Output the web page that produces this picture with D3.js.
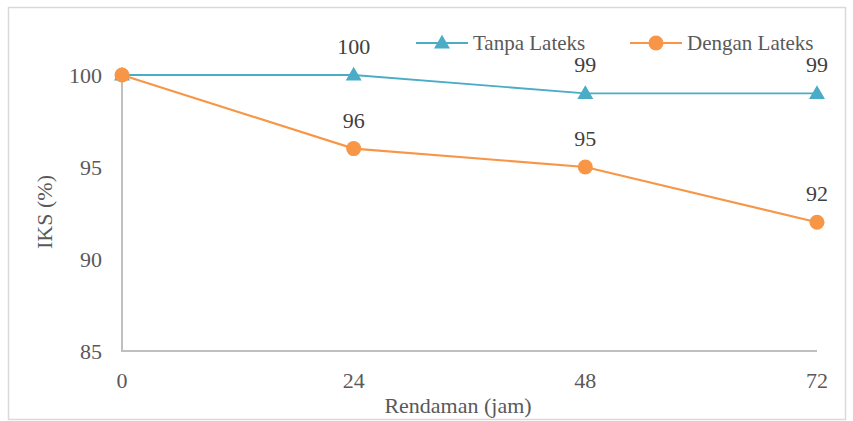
<!DOCTYPE html>
<html><head><meta charset="utf-8">
<script src="https://cdn.jsdelivr.net/npm/d3@7"></script>
</head><body><svg id="c" width="853" height="421"></svg>
<script>
const categories = [0, 24, 48, 72];
const tanpaLateks = [100, 100, 99, 99];
const denganLateks = [100, 96, 95, 92];
const yTicks = [85, 90, 95, 100];
const seriesNames = ["Tanpa Lateks", "Dengan Lateks"];
const blue = "#4BACC6", orange = "#F79646";

const svg = d3.select("#c");
svg.append("rect").attr("x",8.5).attr("y",7.5).attr("width",837).attr("height",412)
  .attr("fill","#fff").attr("stroke","#d9d9d9").attr("stroke-width",1.5);

const x = d3.scalePoint().domain(categories).range([122, 817]);
const y = d3.scaleLinear().domain([85, 100]).range([351, 75]);

svg.append("line").attr("x1",x(0)).attr("x2",x(0)).attr("y1",y(100)).attr("y2",y(85)).attr("stroke","#bfbfbf").attr("stroke-width",2);
svg.append("line").attr("x1",x(0)-1).attr("x2",x(72)).attr("y1",y(85)).attr("y2",y(85)).attr("stroke","#bfbfbf").attr("stroke-width",2);

function txt(sel, fs){ return sel.style("font-size",fs||"22px").style("font-family",d=>'"Liberation Serif", "Times New Roman", Tinos, serif'); }

txt(svg.selectAll(".yt").data(yTicks).enter().append("text")
  .attr("x",102).attr("y",d=>y(d)+8).attr("text-anchor","end").attr("fill","#595959").text(d=>d));
txt(svg.selectAll(".xt").data(categories).enter().append("text")
  .attr("x",d=>x(d)).attr("y",388).attr("text-anchor","middle").attr("fill","#595959").text(d=>d));

txt(svg.selectAll(".xtitle").data(["Rendaman (jam)"]).enter().append("text")
  .attr("x",458).attr("y",413).attr("text-anchor","middle").attr("fill","#595959").text(d=>d));
txt(svg.selectAll(".ytitle").data(["IKS (%)"]).enter().append("text")
  .attr("transform","translate(52,212) rotate(-90)").attr("text-anchor","middle").attr("fill","#595959").text(d=>d));

const line = d3.line().x((d,i)=>x(categories[i])).y(d=>y(d));
const tri = d3.symbol().type(d3.symbolTriangle).size(110);

svg.append("path").datum(tanpaLateks).attr("d",line).attr("fill","none").attr("stroke",blue).attr("stroke-width",1.8);
svg.append("path").datum(denganLateks).attr("d",line).attr("fill","none").attr("stroke",orange).attr("stroke-width",2.2);

svg.selectAll(".tm").data(tanpaLateks).enter().append("path")
  .attr("d",tri).attr("fill",blue)
  .attr("transform",(d,i)=>`translate(${x(categories[i])},${y(d)+1})`);
svg.selectAll(".cm").data(denganLateks).enter().append("circle")
  .attr("cx",(d,i)=>x(categories[i])).attr("cy",d=>y(d)).attr("r",7.5).attr("fill",orange);

txt(svg.selectAll(".tl").data(tanpaLateks.slice(1)).enter().append("text")
  .attr("x",(d,i)=>x(categories[i+1])).attr("y",d=>y(d)-21).attr("text-anchor","middle").attr("fill","#404040").text(d=>d));
txt(svg.selectAll(".dl").data(denganLateks.slice(1)).enter().append("text")
  .attr("x",(d,i)=>x(categories[i+1])).attr("y",d=>y(d)-21).attr("text-anchor","middle").attr("fill","#404040").text(d=>d));

const lg = [{n:seriesNames[0],c:blue,x:416},{n:seriesNames[1],c:orange,x:630}];
svg.selectAll(".ll").data(lg).enter().append("line")
  .attr("x1",d=>d.x).attr("x2",d=>d.x+52).attr("y1",43).attr("y2",43).attr("stroke",d=>d.c).attr("stroke-width",2);
svg.append("path").attr("d",tri).attr("fill",blue).attr("transform",`translate(${lg[0].x+26},44)`);
svg.append("circle").attr("cx",lg[1].x+26).attr("cy",43).attr("r",7.5).attr("fill",orange);
txt(svg.selectAll(".lt").data(lg).enter().append("text")
  .attr("x",d=>d.x+57).attr("y",50).attr("fill","#595959").text(d=>d.n), "21px");

document.body.style.margin = "0";
</script></body></html>
